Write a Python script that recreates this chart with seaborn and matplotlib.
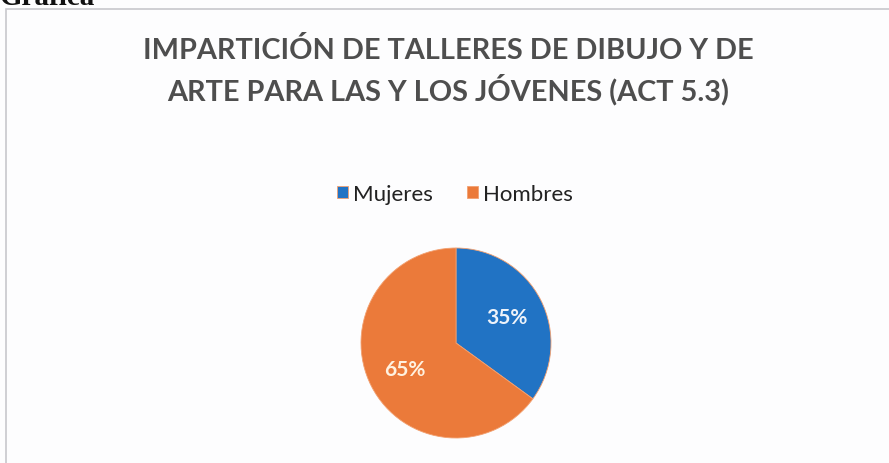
import matplotlib.pyplot as plt
import seaborn as sns
from matplotlib.patches import Rectangle

labels = ["Mujeres", "Hombres"]
values = [35, 65]
colors = ["#2173C4", "#EB7A3A"]
title = "IMPARTICIÓN DE TALLERES DE DIBUJO Y DE\nARTE PARA LAS Y LOS JÓVENES (ACT 5.3)"

sns.set_theme(style="white")
plt.rcParams["font.family"] = ["Lato", "DejaVu Sans"]

W, H = 889, 464
fig = plt.figure(figsize=(W / 100, H / 100), dpi=100)
fig.patch.set_facecolor("#FDFDFE")

# border of the chart box
fig.patches.append(Rectangle((6 / W, -0.01), 1.0, 1 - 10 / H + 0.01, transform=fig.transFigure,
                             fill=False, edgecolor="#C8C8CC", lw=1.2))

# heading above the box, cut off by the scan
fig.text(0.0, 1 - 5 / H, "Gráfica", family="Liberation Serif", fontweight="bold",
         fontsize=21, color="#111111", ha="left", va="baseline")

fig.text(448 / W, 1 - 71 / H, title, ha="center", va="center", fontsize=20.8,
         fontweight="bold", color="#4E4E4E", linespacing=1.38)

r = 95
cx, cy = 456, 344
ax = fig.add_axes([(cx - r) / W, 1 - (cy + r) / H, 2 * r / W, 2 * r / H])
wedges, _, autotexts = ax.pie(values, colors=colors, startangle=90, counterclock=False,
                              autopct="%d%%", pctdistance=0.6, radius=1.0,
                              wedgeprops=dict(edgecolor="#F2A070", linewidth=0.6),
                              textprops=dict(color="white", fontsize=15, fontweight="bold"))
autotexts[0].set_color("#EEF3FA")
autotexts[1].set_color("#FFF2E0")
ax.set_xlim(-1, 1)
ax.set_ylim(-1, 1)
ax.set_aspect("equal")
ax.axis("off")

leg = fig.legend(wedges, labels, loc="center", bbox_to_anchor=(455 / W, 1 - 195 / H),
                 ncol=2, frameon=False, fontsize=16, handlelength=0.5, handleheight=0.5,
                 handletextpad=0.25, columnspacing=1.5)
for t in leg.get_texts():
    t.set_color("#222222")

fig.savefig("out.png", dpi=100, facecolor=fig.get_facecolor())
